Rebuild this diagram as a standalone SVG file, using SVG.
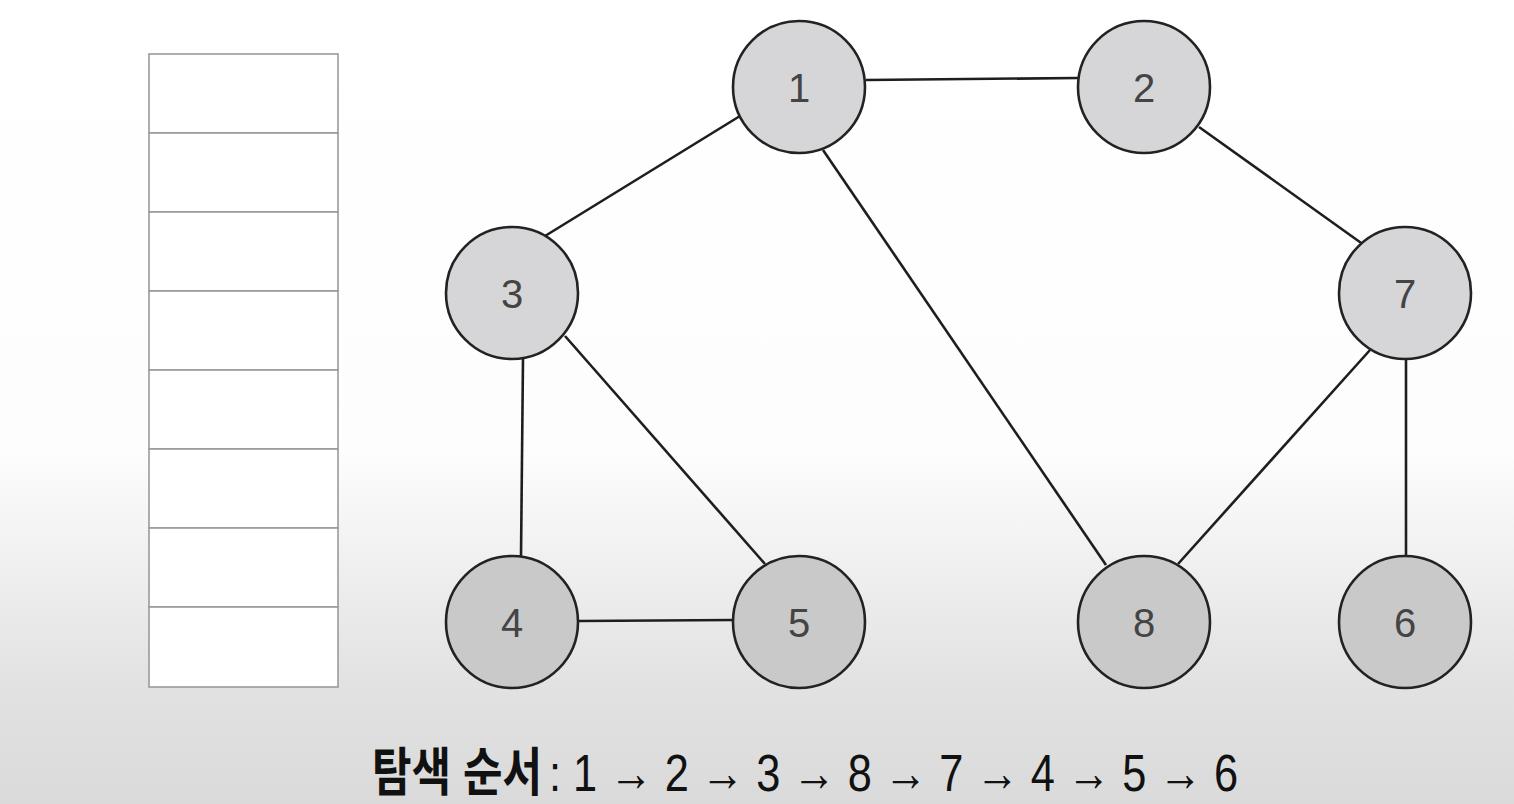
<svg xmlns="http://www.w3.org/2000/svg" width="1514" height="804" viewBox="0 0 1514 804">
<defs>
<linearGradient id="bg" x1="0" y1="0" x2="0" y2="1">
<stop offset="0" stop-color="#ffffff"/>
<stop offset="0.56" stop-color="#fdfdfd"/>
<stop offset="0.85" stop-color="#e2e2e2"/>
<stop offset="1" stop-color="#dadada"/>
</linearGradient>
<style>
.edge{stroke:#1e1e1e;stroke-width:2.6;fill:none}
.node{fill:#d6d6d8;stroke:#222;stroke-width:2.6}
.low{fill:#c9c9ca}
.lbl{font-family:"Liberation Sans","Noto Sans",sans-serif;font-size:40px;fill:#444;text-anchor:middle}
.cell{fill:#ffffff;stroke:#9a9a9a;stroke-width:1.6}
.order{font-family:"Liberation Sans","Noto Sans CJK KR",sans-serif;font-size:52px;fill:#111}
</style>
</defs>
<rect x="0" y="0" width="1514" height="804" fill="url(#bg)"/>
<g id="stack">
<rect class="cell" x="149" y="54" width="189" height="79"/>
<rect class="cell" x="149" y="133" width="189" height="79"/>
<rect class="cell" x="149" y="212" width="189" height="79"/>
<rect class="cell" x="149" y="291" width="189" height="79"/>
<rect class="cell" x="149" y="370" width="189" height="79"/>
<rect class="cell" x="149" y="449" width="189" height="79"/>
<rect class="cell" x="149" y="528" width="189" height="79"/>
<rect class="cell" x="149" y="607" width="189" height="80"/>
</g>
<g id="edges">
<line class="edge" x1="866" y1="80" x2="1078" y2="78"/>
<line class="edge" x1="740" y1="116" x2="545" y2="236"/>
<line class="edge" x1="823" y1="150" x2="1106" y2="565"/>
<line class="edge" x1="1199" y1="127" x2="1371" y2="250"/>
<line class="edge" x1="523" y1="358" x2="521" y2="557"/>
<line class="edge" x1="565" y1="336" x2="765" y2="564"/>
<line class="edge" x1="579" y1="621" x2="734" y2="620"/>
<line class="edge" x1="1370" y1="350" x2="1178" y2="564"/>
<line class="edge" x1="1406" y1="358" x2="1406" y2="557"/>
</g>
<g id="node1"><circle class="node" cx="799" cy="87" r="66"/><text class="lbl" x="799" y="102">1</text></g>
<g id="node2"><circle class="node" cx="1144" cy="87" r="66"/><text class="lbl" x="1144" y="102">2</text></g>
<g id="node3"><circle class="node" cx="512" cy="293" r="66"/><text class="lbl" x="512" y="308">3</text></g>
<g id="node7"><circle class="node" cx="1405" cy="293" r="66"/><text class="lbl" x="1405" y="308">7</text></g>
<g id="node4"><circle class="node low" cx="512" cy="622" r="66"/><text class="lbl" x="512" y="637">4</text></g>
<g id="node5"><circle class="node low" cx="799" cy="622" r="66"/><text class="lbl" x="799" y="637">5</text></g>
<g id="node8"><circle class="node low" cx="1144" cy="622" r="66"/><text class="lbl" x="1144" y="637">8</text></g>
<g id="node6"><circle class="node low" cx="1405" cy="622" r="66"/><text class="lbl" x="1405" y="637">6</text></g>
<g id="caption">
<text class="order" transform="translate(372,791) scale(0.78,1)" x="0" y="0" font-weight="bold" textLength="218" lengthAdjust="spacingAndGlyphs">탐색 순서</text>
<text class="order" x="549" y="791" textLength="689" lengthAdjust="spacingAndGlyphs">: 1 → 2 → 3 → 8 → 7 → 4 → 5 → 6</text>
</g>
</svg>
